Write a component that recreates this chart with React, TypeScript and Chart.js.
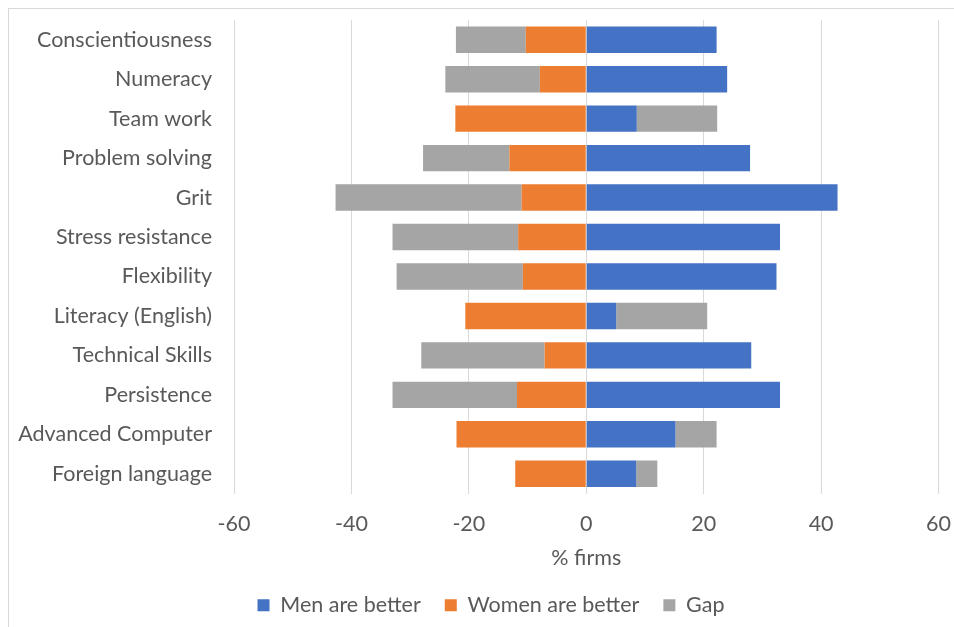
import React, { useEffect, useRef } from "react";
import { Chart, registerables } from "chart.js";

Chart.register(...registerables);

const categories = [
  "Conscientiousness",
  "Numeracy",
  "Team work",
  "Problem solving",
  "Grit",
  "Stress resistance",
  "Flexibility",
  "Literacy (English)",
  "Technical Skills",
  "Persistence",
  "Advanced Computer",
  "Foreign language",
];

const menBetter = [22.2, 24.0, 8.6, 27.9, 42.8, 33.0, 32.4, 5.1, 28.1, 33.0, 15.2, 8.5];
const womenBetter = [-10.3, -7.9, -22.3, -13.1, -11.0, -11.6, -10.8, -20.6, -7.1, -11.8, -22.1, -12.1];
const gap = [-11.9, -16.1, 13.7, -14.7, -31.7, -21.4, -21.5, 15.5, -21.0, -21.2, 7.0, 3.6];

const xTicks = [-60, -40, -20, 0, 20, 40, 60];

const FONT = "Lato";
const FS = 21.5;
const TEXT = "#595959";

export default function App() {
  const ref = useRef<HTMLCanvasElement | null>(null);

  useEffect(() => {
    const prevMargin = document.body.style.margin;
    document.body.style.margin = "0";
    if (!ref.current) return;
    const chart = new Chart(ref.current, {
      type: "bar",
      data: {
        labels: categories,
        datasets: [
          { label: "Men are better", data: menBetter, backgroundColor: "#4472C4" },
          { label: "Women are better", data: womenBetter, backgroundColor: "#ED7D31" },
          { label: "Gap", data: gap, backgroundColor: "#A5A5A5" },
        ],
      },
      options: {
        indexAxis: "y",
        responsive: false,
        animation: false,
        maintainAspectRatio: false,
        datasets: { bar: { categoryPercentage: 1, barPercentage: 0.67 } },
        layout: { padding: { left: 8, right: -12, top: 11, bottom: 0 } },
        plugins: {
          tooltip: { enabled: false },
          legend: {
            position: "bottom",
            labels: {
              boxWidth: 12,
              boxHeight: 12,
              padding: 24,
              color: TEXT,
              font: { family: FONT, size: FS },
            },
          },
        },
        scales: {
          x: {
            stacked: true,
            min: -60,
            max: 60,
            afterFit: (s: any) => {
              s.height = 77;
            },
            afterBuildTicks: (s: any) => {
              s.ticks = xTicks.map((v) => ({ value: v }));
            },
            grid: {
              color: "#d9d9d9",
              lineWidth: 1,
              drawTicks: true,
              tickLength: 16,
              tickColor: "rgba(0,0,0,0)",
            },
            border: { display: false },
            ticks: {
              padding: 2,
              color: TEXT,
              font: { family: FONT, size: FS },
            },
            title: {
              display: true,
              text: "% firms",
              color: TEXT,
              font: { family: FONT, size: FS },
              padding: { top: 0, bottom: 0 },
            },
          },
          y: {
            stacked: true,
            afterFit: (s: any) => {
              s.width = 217;
            },
            grid: {
              display: true,
              drawOnChartArea: false,
              drawTicks: true,
              tickLength: 24,
              color: "rgba(0,0,0,0)",
              tickColor: "rgba(0,0,0,0)",
            },
            border: { display: false },
            ticks: {
              padding: -2,
              color: TEXT,
              font: { family: FONT, size: FS },
            },
          },
        },
      },
    });
    return () => {
      chart.destroy();
      document.body.style.margin = prevMargin;
    };
  }, []);

  return (
    <div
      style={{
        position: "relative",
        width: 954,
        height: 627,
        boxSizing: "border-box",
        paddingLeft: 8,
        paddingTop: 8,
        overflow: "hidden",
      }}
    >
      <div
        style={{
          position: "relative",
          width: 946,
          height: 619,
          boxSizing: "border-box",
          borderTop: "1px solid #d9d9d9",
          borderLeft: "1px solid #d9d9d9",
          overflow: "hidden",
        }}
      >
        <canvas
          ref={ref}
          width={944}
          height={617}
          style={{ position: "absolute", left: 0, top: 0, width: 944, height: 617 }}
        />
      </div>
    </div>
  );
}
